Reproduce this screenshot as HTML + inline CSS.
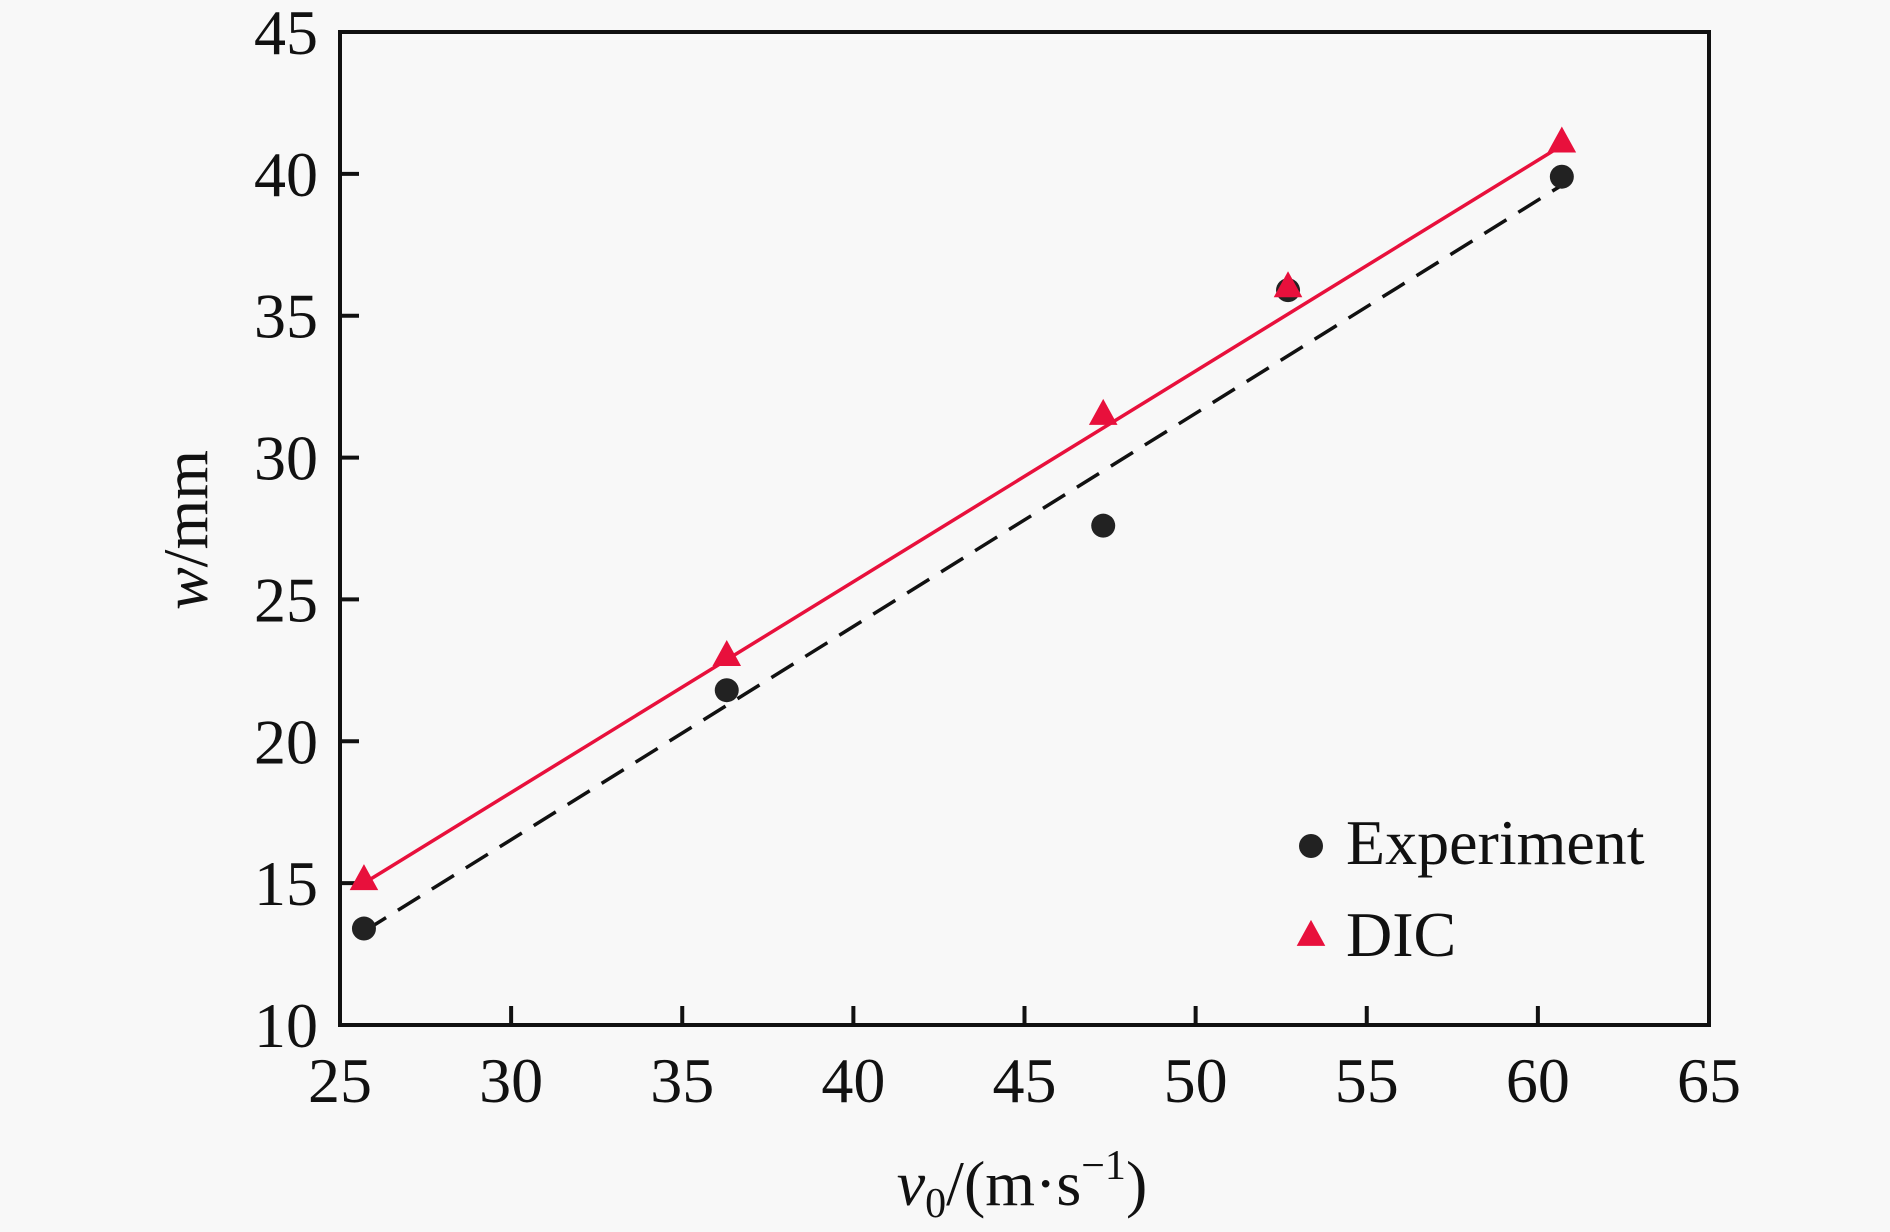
<!DOCTYPE html>
<html><head><meta charset="utf-8"><style>
html,body{margin:0;padding:0;background:#f8f8f8;}
svg{display:block;font-family:"Liberation Serif",serif;}
</style></head><body>
<svg id="chart" width="1890" height="1232" viewBox="0 0 1890 1232">
<rect width="1890" height="1232" fill="#f8f8f8"/>
<g id="plot"></g>
</svg>
<script>
const xTicks=[25,30,35,40,45,50,55,60,65];
const yTicks=[10,15,20,25,30,35,40,45];
const speeds=[25.7,36.3,47.3,52.7,60.7];
const experiment=[13.4,21.8,27.6,35.9,39.9];
const dic=[15.1,23.0,31.5,36.0,41.1];
const expFit=[13.3,39.6];
const dicFit=[15.0,41.0];
const fitX=[25.7,60.7];

const L=340,R=1709,T=32,B=1025;
const xs=v=>L+(v-25)/(65-25)*(R-L);
const ys=v=>B-(v-10)/(45-10)*(B-T);
const NS='http://www.w3.org/2000/svg';
const g=document.getElementById('plot');
function mk(t,a,p){const e=document.createElementNS(NS,t);for(const k in a)e.setAttribute(k,a[k]);(p||g).appendChild(e);return e;}

// frame
const fr=mk('rect',{x:L,y:T,width:R-L,height:B-T,fill:'none',stroke:'#111','stroke-width':4});



xTicks.forEach(v=>{
  const x=xs(v);
  if(v>25&&v<65){const t=mk('line',{x1:x,x2:x,y1:B,y2:B-19,stroke:'#111','stroke-width':4});
  
  }
  const l=mk('text',{x:x,y:1102,'text-anchor':'middle','font-size':64,fill:'#111'});
  l.textContent=v;
  
  
});
yTicks.forEach(v=>{
  const y=ys(v);
  if(v>10&&v<45){const t=mk('line',{x1:L,x2:L+19,y1:y,y2:y,stroke:'#111','stroke-width':4});
  
  }
  const l=mk('text',{x:318,y:y+22,'text-anchor':'end','font-size':64,fill:'#111'});
  l.textContent=v;
  
  
});

// fit lines
const bl=mk('line',{x1:xs(fitX[0]),y1:ys(expFit[0]),x2:xs(fitX[1]),y2:ys(expFit[1]),stroke:'#111','stroke-width':3.5,'stroke-dasharray':'26 14'});


const rl=mk('line',{x1:xs(fitX[0]),y1:ys(dicFit[0]),x2:xs(fitX[1]),y2:ys(dicFit[1]),stroke:'#e8103c','stroke-width':3.5});



function tri(cx,cy,s){return `${cx},${cy-s*0.62} ${cx-s*0.55},${cy+s*0.38} ${cx+s*0.55},${cy+s*0.38}`;}
speeds.forEach((s,i)=>{
  const c=mk('circle',{cx:xs(s),cy:ys(experiment[i]),r:12,fill:'#222'});
  
  
  const t=mk('polygon',{points:tri(xs(s),ys(dic[i]),26),fill:'#e8103c'});
  
  
});

// legend
const lc=mk('circle',{cx:1311,cy:846,r:12,fill:'#222'});


const lt1=mk('text',{x:1346,y:864,'font-size':64,fill:'#111'});
lt1.textContent='Experiment';


const lp=mk('polygon',{points:tri(1311,936,26),fill:'#e8103c'});


const lt2=mk('text',{x:1346,y:956,'font-size':64,fill:'#111'});
lt2.textContent='DIC';



// axis titles
const xt=mk('text',{x:1022,y:1205,'text-anchor':'middle','font-size':64,fill:'#111'});
xt.innerHTML='<tspan font-style="italic">v</tspan><tspan font-size="42" dy="12">0</tspan><tspan dy="-12">/(m·s</tspan><tspan font-size="42" dy="-26">−1</tspan><tspan dy="26">)</tspan>';


const yt=mk('text',{x:0,y:0,'text-anchor':'middle','font-size':64,fill:'#111',transform:'translate(207,530) rotate(-90)'});
yt.innerHTML='<tspan font-style="italic">w</tspan>/mm';


</script>
</body></html>
